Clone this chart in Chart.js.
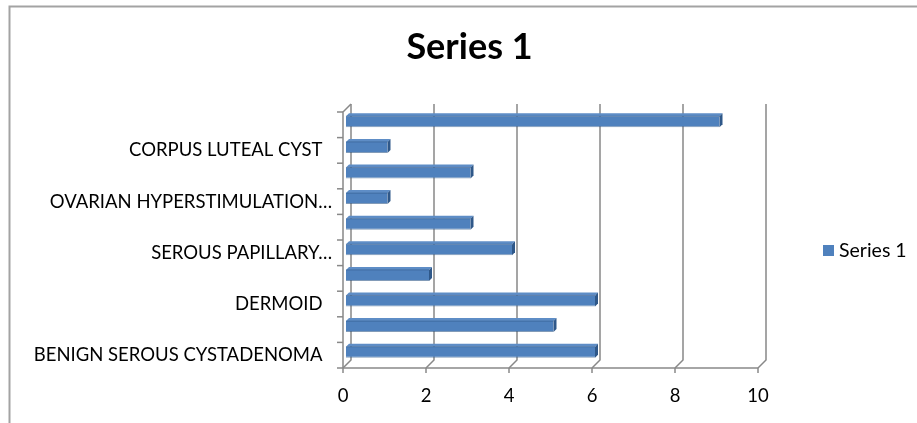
<!DOCTYPE html>
<html>
<head>
<meta charset="utf-8">
<script src="https://cdn.jsdelivr.net/npm/chart.js@4.4.1/dist/chart.umd.min.js"></script>
<style>
  html, body { margin: 0; padding: 0; background: #ffffff; }
  canvas { display: block; }
</style>
</head>
<body>
<canvas id="chart" width="917" height="423"></canvas>
<script>
// Chart content
const chartTitle = 'Series 1';
const seriesName = 'Series 1';
// Categories listed bottom to top; unlabelled rows keep an empty name
const categories = [
  'BENIGN SEROUS CYSTADENOMA',
  '',
  'DERMOID',
  '',
  'SEROUS PAPILLARY\u2026',
  '',
  'OVARIAN HYPERSTIMULATION\u2026',
  '',
  'CORPUS LUTEAL CYST',
  ''
];
const values = [6, 5, 6, 2, 4, 3, 1, 3, 1, 9];
const xTicks = [0, 2, 4, 6, 8, 10];

// Styling
const BAR_COLOR = '#4F81BD';
const BAR_TOP = '#5E8DC6';
const BAR_SIDE = '#2F5889';
const GRID_COLOR = '#888888';
const TEXT_COLOR = '#000000';
const FONT = 'Lato, "Open Sans", sans-serif';
const BACK = 5;   // offset of the back wall from the bar plane
const FRONT = 3;  // offset of the front edge from the bar plane
const BAR_DEPTH = 3;

function line(ctx, pts) {
  ctx.beginPath();
  ctx.moveTo(pts[0][0], pts[0][1]);
  for (let i = 1; i < pts.length; i++) ctx.lineTo(pts[i][0], pts[i][1]);
  ctx.stroke();
}
function poly(ctx, pts, fill) {
  ctx.beginPath();
  ctx.moveTo(pts[0][0], pts[0][1]);
  for (let i = 1; i < pts.length; i++) ctx.lineTo(pts[i][0], pts[i][1]);
  ctx.closePath();
  ctx.fillStyle = fill;
  ctx.fill();
}

// Pseudo-3D walls, floor, bar faces, title and legend
const box3d = {
  id: 'box3d',
  beforeDraw(chart) {
    const ctx = chart.ctx;
    ctx.save();
    ctx.fillStyle = '#ffffff';
    ctx.fillRect(0, 0, chart.width, chart.height);
    ctx.strokeStyle = '#a3a3a3';
    ctx.lineWidth = 2;
    line(ctx, [[9.5, chart.height + 2], [9.5, 6.5], [chart.width + 2, 6.5]]);
    ctx.restore();
  },
  beforeDatasetsDraw(chart) {
    const { ctx, chartArea: a, scales: { x, y } } = chart;
    const bTop = a.top - BACK, bBot = a.bottom - BACK;
    const fTop = a.top + FRONT, fBot = a.bottom + FRONT;
    const x0 = x.getPixelForValue(x.min);
    const x1 = x.getPixelForValue(x.max);
    ctx.save();
    ctx.strokeStyle = GRID_COLOR;
    ctx.lineWidth = 1.5;
    x.ticks.forEach(t => {
      const px = x.getPixelForValue(t.value);
      line(ctx, [[px + BACK, bTop], [px + BACK, bBot], [px - FRONT, fBot]]);
      line(ctx, [[px - FRONT, fBot], [px - FRONT, fBot + 5]]);
    });
    line(ctx, [[x0 - FRONT, fBot], [x1 - FRONT, fBot]]);
    line(ctx, [[x0 + BACK, bTop], [x0 - FRONT, fTop], [x0 - FRONT, fBot]]);
    for (let i = 0; i <= categories.length; i++) {
      const yb = y.getPixelForValue(i - 0.5) + FRONT;
      line(ctx, [[x0 - FRONT - 6, yb], [x0 - FRONT, yb]]);
    }
    ctx.restore();
  },
  afterDatasetsDraw(chart) {
    const ctx = chart.ctx;
    const meta = chart.getDatasetMeta(0);
    ctx.save();
    meta.data.forEach(bar => {
      const p = bar.getProps(['x', 'y', 'base', 'height'], true);
      const top = p.y - p.height / 2, bottom = p.y + p.height / 2;
      const d = BAR_DEPTH;
      poly(ctx, [[p.base, top], [p.base + d, top - d], [p.x + d, top - d], [p.x, top]], BAR_TOP);
      poly(ctx, [[p.x, top], [p.x + d, top - d], [p.x + d, bottom - d], [p.x, bottom]], BAR_SIDE);
      ctx.strokeStyle = 'rgba(47,88,137,0.55)';
      ctx.lineWidth = 1;
      line(ctx, [[p.base, top], [p.x, top]]);
    });
    ctx.restore();
  },
  afterDraw(chart) {
    const ctx = chart.ctx;
    ctx.save();
    ctx.fillStyle = TEXT_COLOR;
    ctx.textBaseline = 'middle';
    ctx.textAlign = 'center';
    ctx.font = 'bold 36px ' + FONT;
    ctx.fillText(chartTitle, 469.5, 47);
    // legend
    const ds = chart.data.datasets[0];
    ctx.fillStyle = ds.backgroundColor;
    ctx.fillRect(823, 245, 11, 11);
    ctx.fillStyle = TEXT_COLOR;
    ctx.textAlign = 'left';
    ctx.font = '19.5px ' + FONT;
    ctx.fillText(ds.label, 839, 251);
    ctx.restore();
  }
};

new Chart(document.getElementById('chart'), {
  type: 'bar',
  data: {
    labels: categories,
    datasets: [{
      label: seriesName,
      data: values,
      backgroundColor: BAR_COLOR,
      borderColor: 'rgba(47,88,137,0.6)',
      borderWidth: { top: 0, bottom: 1, left: 0, right: 0 },
      borderSkipped: false,
      barPercentage: 0.43,
      categoryPercentage: 1
    }]
  },
  options: {
    indexAxis: 'y',
    responsive: false,
    animation: false,
    devicePixelRatio: 1,
    layout: { padding: { top: 109, right: 156, left: 0, bottom: 0 } },
    plugins: {
      legend: { display: false },
      title: { display: false },
      tooltip: { enabled: false }
    },
    scales: {
      x: {
        min: xTicks[0],
        max: xTicks[xTicks.length - 1],
        ticks: {
          stepSize: xTicks[1] - xTicks[0],
          padding: 20,
          labelOffset: -FRONT,
          color: TEXT_COLOR,
          font: { family: FONT, size: 18.5 }
        },
        grid: { display: false, drawTicks: false },
        border: { display: false },
        afterFit(scale) { scale.height = 58; }
      },
      y: {
        reverse: true,
        ticks: {
          autoSkip: false,
          padding: 14,
          labelOffset: FRONT,
          color: TEXT_COLOR,
          font: { family: FONT, size: 18.5 },
          callback(value) {
            const name = this.getLabelForValue(value);
            return name === '' || name.endsWith('\u2026') ? name : name + '  ';
          }
        },
        grid: { display: false, drawTicks: false },
        border: { display: false },
        afterFit(scale) { scale.width = 346; }
      }
    }
  },
  plugins: [box3d]
});
</script>
</body>
</html>
